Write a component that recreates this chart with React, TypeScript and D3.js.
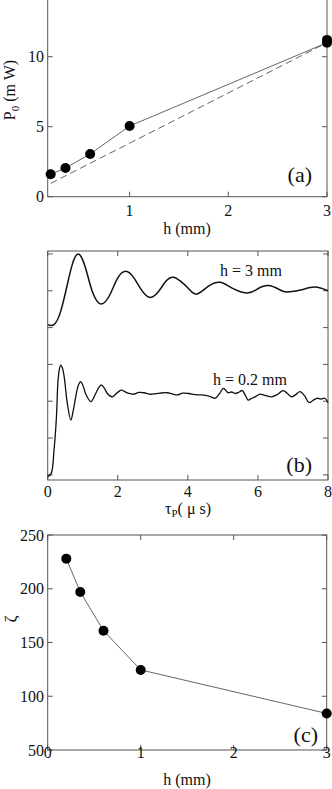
import * as d3 from 'd3'

// panel (a): P0 vs h
const hA = [0.2, 0.35, 0.6, 1, 3, 3]
const powerA = [1.6, 2.05, 3.05, 5.05, 11.0, 11.2]
const dashedH = [0.2, 3]
const dashedP = [0.95, 11.0]
const ticksAX = [1, 2, 3]
const ticksAY = [0, 5, 10, 15]
const labelsAY = [0, 5, 10]

// panel (b): signals vs tau_P (arbitrary units)
const tau3 = [0, 0.18, 0.37, 0.56, 0.7, 0.875, 1.08, 1.27, 1.53, 1.8,
  2.0, 2.23, 2.46, 2.67, 2.92, 3.18, 3.37, 3.58, 3.79, 4.03,
  4.25, 4.58, 4.92, 5.25, 5.68, 5.96, 6.3, 6.68, 6.91, 7.25,
  7.63, 8]
const sig3 = [4.08, 4.08, 4.44, 5.17, 5.71, 6.0, 5.62, 4.99, 4.64, 4.94,
  5.35, 5.53, 5.35, 5.03, 4.82, 5.0, 5.26, 5.37, 5.26, 5.05,
  4.91, 5.12, 5.23, 5.08, 4.94, 5.03, 5.14, 5.0, 4.97, 5.03,
  5.1, 5.0]
const tau02 = [0, 0.1, 0.18, 0.25, 0.29, 0.33, 0.37, 0.42, 0.47, 0.56,
  0.66, 0.73, 0.8, 0.87, 0.94, 1.01, 1.08, 1.23, 1.37, 1.45,
  1.53, 1.62, 1.7, 1.84, 1.97, 2.1, 2.2, 2.32, 2.45, 2.6,
  2.75, 2.9, 3.03, 3.2, 3.41, 3.55, 3.7, 3.85, 4.03, 4.2,
  4.39, 4.6, 4.78, 4.9, 5.01, 5.08, 5.15, 5.25, 5.35, 5.45,
  5.55, 5.63, 5.72, 5.82, 5.92, 6.06, 6.2, 6.39, 6.55, 6.72,
  6.85, 6.96, 7.08, 7.2, 7.33, 7.46, 7.57, 7.68, 7.8, 7.91,
  8]
const sig02 = [-0.05, 0.04, 0.67, 1.58, 2.49, 2.85, 2.98, 2.9, 2.67, 1.94,
  1.49, 1.75, 2.12, 2.42, 2.53, 2.42, 2.21, 1.99, 2.21, 2.36,
  2.44, 2.35, 2.21, 2.12, 2.22, 2.3, 2.26, 2.21, 2.19, 2.24,
  2.23, 2.19, 2.2, 2.22, 2.23, 2.2, 2.17, 2.22, 2.21, 2.18,
  2.17, 2.14, 2.08, 2.2, 2.35, 2.3, 2.23, 2.25, 2.21, 2.24,
  2.29, 2.18, 2.03, 2.08, 2.12, 2.19, 2.16, 2.12, 2.18, 2.29,
  2.2, 2.12, 2.18, 2.26, 2.15, 1.96, 2.02, 2.08, 2.06, 2.08,
  1.96]
const ticksBX = [0, 2, 4, 6, 8]
const ticksBY = [0, 1, 2, 3, 4, 5, 6]

// panel (c): zeta vs h
const hC = [0.2, 0.35, 0.6, 1, 3]
const zetaC = [228, 197, 161, 124.5, 84]
const ticksCX = [0, 1, 2, 3]
const ticksCY = [50, 100, 150, 200, 250]

const FONT = "'Liberation Serif', 'DejaVu Serif', serif"
const AXIS = '#555'
const TICK = 5

type Lin = d3.ScaleLinear<number, number>

function Frame({ x, y, xt, yt }: { x: Lin; y: Lin; xt: number[]; yt: number[] }) {
  const [x0, x1] = x.range()
  const [y0, y1] = y.range()
  return (
    <g stroke={AXIS} strokeWidth={1} fill="none">
      <rect x={x0} y={y1} width={x1 - x0} height={y0 - y1} />
      {xt.map(t => (
        <g key={'x' + t}>
          <line x1={x(t)} x2={x(t)} y1={y0} y2={y0 - TICK} />
          <line x1={x(t)} x2={x(t)} y1={y1} y2={y1 + TICK} />
        </g>
      ))}
      {yt.map(t => (
        <g key={'y' + t}>
          <line x1={x0} x2={x0 + TICK} y1={y(t)} y2={y(t)} />
          <line x1={x1} x2={x1 - TICK} y1={y(t)} y2={y(t)} />
        </g>
      ))}
    </g>
  )
}

export default function App() {
  // (a)
  const xa = d3.scaleLinear().domain([0.17, 3]).range([47.7, 327])
  const ya = d3.scaleLinear().domain([0, 15]).range([196.7, -13.3])
  const lineA = d3.line<[number, number]>().x(d => xa(d[0])).y(d => ya(d[1]))
  const ptsA = d3.zip(hA, powerA) as [number, number][]
  const dashA = d3.zip(dashedH, dashedP) as [number, number][]

  // (b)
  const xb = d3.scaleLinear().domain([0, 8]).range([47.7, 328])
  const yb = d3.scaleLinear().domain([-0.14, 6.08]).range([480, 251])
  const smooth = d3.line<[number, number]>()
    .x(d => xb(d[0])).y(d => yb(d[1]))
    .curve(d3.curveNatural)
  const rough = d3.line<[number, number]>()
    .x(d => xb(d[0])).y(d => yb(d[1]))
    .curve(d3.curveCatmullRom.alpha(0.5))
  const curve3 = d3.zip(tau3, sig3) as [number, number][]
  const curve02 = d3.zip(tau02, sig02) as [number, number][]

  // (c)
  const xc = d3.scaleLinear().domain([0, 3]).range([47.7, 326.7])
  const yc = d3.scaleLinear().domain([50, 250]).range([750, 535])
  const lineC = d3.line<[number, number]>().x(d => xc(d[0])).y(d => yc(d[1]))
  const ptsC = d3.zip(hC, zetaC) as [number, number][]

  return (
    <>
      <style>{`body{margin:0;background:#fff} svg text{font-family:${FONT}}`}</style>
      <svg width={332} height={789} style={{ display: 'block', fontFamily: FONT }} fill="#111">
        <rect width={332} height={789} fill="#fff" />

        {/* panel (a) */}
        <Frame x={xa} y={ya} xt={ticksAX} yt={ticksAY} />
        <path d={lineA(dashA) ?? ''} fill="none" stroke="#666" strokeWidth={1} strokeDasharray="7,4" />
        <path d={lineA(ptsA) ?? ''} fill="none" stroke="#666" strokeWidth={1} />
        {ptsA.map((d, i) => (
          <circle key={i} cx={xa(d[0])} cy={ya(d[1])} r={5} fill="#000" />
        ))}
        {ticksAX.map(t => (
          <text key={t} x={xa(t)} y={216} fontSize={16} textAnchor="middle">{t}</text>
        ))}
        {labelsAY.map(t => (
          <text key={t} x={44} y={ya(t) + 5.5} fontSize={16} textAnchor="end">{t}</text>
        ))}
        <text x={187} y={234} fontSize={16} textAnchor="middle">h (mm)</text>
        <text transform="translate(15,90) rotate(-90)" fontSize={16} textAnchor="middle">
          P<tspan fontSize={11} dy={4}>0</tspan><tspan dy={-4}> (m W)</tspan>
        </text>
        <text x={312} y={182} fontSize={22} textAnchor="end">(a)</text>

        {/* panel (b) */}
        <Frame x={xb} y={yb} xt={ticksBX} yt={ticksBY} />
        <path d={smooth(curve3) ?? ''} fill="none" stroke="#111" strokeWidth={1.5} />
        <path d={rough(curve02) ?? ''} fill="none" stroke="#111" strokeWidth={1.3} />
        {ticksBX.map(t => (
          <text key={t} x={xb(t)} y={497} fontSize={16} textAnchor="middle">{t}</text>
        ))}
        <text x={220} y={276} fontSize={16}>h = 3 mm</text>
        <text x={213} y={385} fontSize={16}>h = 0.2 mm</text>
        <text x={188} y={514} fontSize={16} textAnchor="middle">
          τ<tspan fontSize={11} dy={3}>P</tspan><tspan dy={-3}>( μ s)</tspan>
        </text>
        <text x={312} y={472} fontSize={22} textAnchor="end">(b)</text>

        {/* panel (c) */}
        <Frame x={xc} y={yc} xt={ticksCX} yt={ticksCY} />
        <path d={lineC(ptsC) ?? ''} fill="none" stroke="#666" strokeWidth={1} />
        {ptsC.map((d, i) => (
          <circle key={i} cx={xc(d[0])} cy={yc(d[1])} r={5} fill="#000" />
        ))}
        {ticksCX.map(t => (
          <text key={t} x={xc(t)} y={758} fontSize={16} textAnchor="middle">{t}</text>
        ))}
        {ticksCY.map(t => (
          <text key={t} x={44} y={yc(t) + 5.5} fontSize={16} textAnchor="end">{t}</text>
        ))}
        <text x={187} y={785} fontSize={16} textAnchor="middle">h (mm)</text>
        <text transform="translate(16,619) rotate(-90)" fontSize={17} textAnchor="middle">ζ</text>
        <text x={318} y={742} fontSize={22} textAnchor="end">(c)</text>
      </svg>
    </>
  )
}
